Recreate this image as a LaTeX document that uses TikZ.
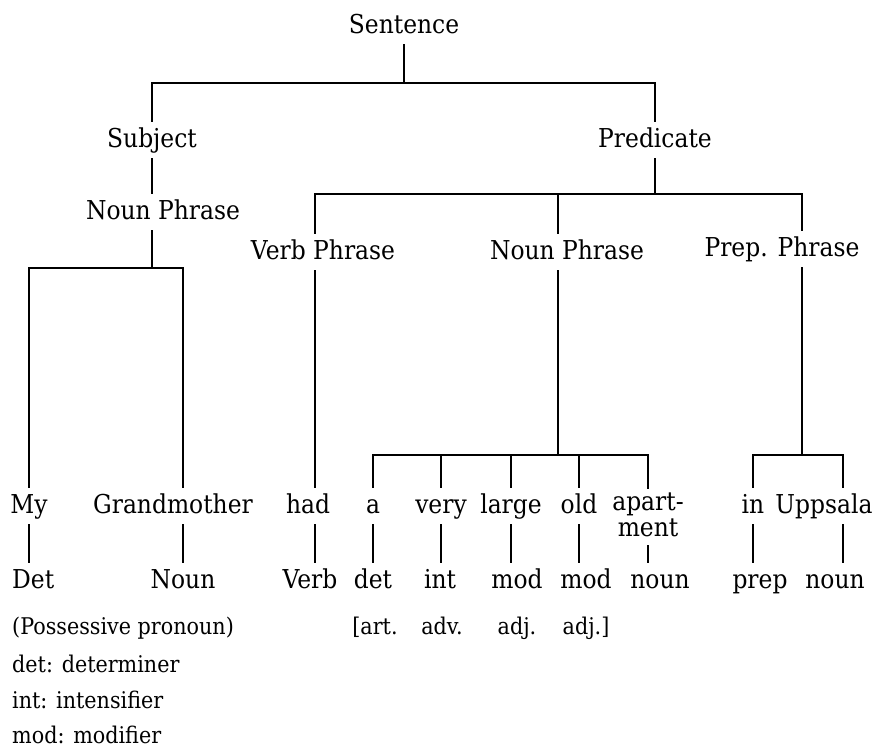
\documentclass[tikz,border=0pt]{standalone}
\usepackage{fontspec}
\setmainfont{DejaVu Serif}[FakeStretch=0.9]
\newcommand{\wordfont}{\fontsize{26}{26}\selectfont}
\newcommand{\notefont}{\fontsize{23}{23}\selectfont}
\begin{document}
\begin{tikzpicture}[x=1pt,y=-1pt,
	tree/.style={line width=2.1pt},
	stem/.style={line width=1.5pt},
	word/.style={font=\wordfont,inner sep=5pt,text height=20pt,text depth=6pt,anchor=base},
	note/.style={font=\notefont,inner sep=0pt,anchor=base}]
	\useasboundingbox (0,0) rectangle (874,747);
	\node[word] (sent) at (404,33) {Sentence};
	\node[word] (subj) at (152,147) {Subject};
	\node[word] (pred) at (655,147) {Predicate};
	\node[word] (npa) at (163,219) {Noun Phrase};
	\node[word] (vp) at (323,259) {Verb Phrase};
	\node[word] (npb) at (567,259) {Noun Phrase};
	\node[word] (pp) at (782,256) {Prep. Phrase};
	\node[word] (my) at (29,513) {My};
	\node[word] (grand) at (173,513) {Grandmother};
	\node[word] (had) at (308,513) {had};
	\node[word] (a) at (373,513) {a};
	\node[word] (very) at (441,513) {very};
	\node[word] (large) at (511,513) {large};
	\node[word] (old) at (579,513) {old};
	\node[font=\wordfont,align=center,inner sep=4pt,anchor=north] (apart) at (648,489) {apart-\\ment};
	\node[word] (in) at (753,513) {in};
	\node[word] (upp) at (824,513) {Uppsala};
	\node[word,anchor=base west] (deta) at (7,588) {Det};
	\node[word] (nouna) at (183,588) {Noun};
	\node[word] (verb) at (310,588) {Verb};
	\node[word] (detb) at (373,588) {det};
	\node[word] (int) at (440,588) {int};
	\node[word] (moda) at (517,588) {mod};
	\node[word] (modb) at (586,588) {mod};
	\node[word] (nounb) at (660,588) {noun};
	\node[word] (prep) at (760,588) {prep};
	\node[word] (nounc) at (835,588) {noun};
	\node[note,anchor=base west] (poss) at (12,634) {(Possessive pronoun)};
	\node[note] (art) at (375,634) {[art.};
	\node[note] (adv) at (442,634) {adv.};
	\node[note] (adja) at (517,634) {adj.};
	\node[note] (adjb) at (586,634) {adj.]};
	\node[note,anchor=base west] (kdet) at (12,672) {det: determiner};
	\node[note,anchor=base west] (kint) at (12,708) {int: intensifier};
	\node[note,anchor=base west] (kmod) at (12,743) {mod: modifier};
	\coordinate (f1) at (404,83);
	\coordinate (cv) at (315,194);
	\coordinate (cp) at (802,194);
	\coordinate (f3) at (152,268);
	\coordinate (f4) at (558,455);
	\coordinate (f5) at (802,455);
	\coordinate (cu) at (843,455);
	\draw[tree] (sent) -- (f1);
	\draw[tree] (subj) |- (f1) -| (pred);
	\draw[tree] (subj) -- (subj |- npa.north);
	\draw[tree] (pred) |- (cv) -- (cv |- vp.north);
	\draw[tree] (pred |- cv) -| (cp |- pp.north);
	\draw[tree] (npb.north -| f4) -- (f4 |- cv);
	\draw[tree] (npa.south -| f3) -- (f3);
	\draw[tree] (my) |- (f3) -| (grand.north -| nouna);
	\draw[stem] (vp.south -| cv) -- (had.north -| cv);
	\draw[stem] (npb.south -| f4) -- (f4);
	\draw[tree] (a) |- (f4) -| (apart);
	\draw[tree] (very) -- (very |- f4);
	\draw[tree] (large) -- (large |- f4);
	\draw[tree] (old) -- (old |- f4);
	\draw[stem] (pp.south -| f5) -- (f5);
	\draw[tree] (in) |- (f5) -- (cu) -- (cu |- upp.north);
	\draw[tree] (my) -- (my |- deta.north);
	\draw[tree] (grand.south -| nouna) -- (nouna);
	\draw[tree] (had.south -| cv) -- (verb.north -| cv);
	\draw[tree] (a) -- (detb);
	\draw[tree] (very) -- (very |- int.north);
	\draw[tree] (large) -- (large |- moda.north);
	\draw[tree] (old) -- (old |- modb.north);
	\draw[tree,shorten <=4pt] (apart) -- (apart |- nounb.north);
	\draw[tree] (in) -- (in |- prep.north);
	\draw[tree] (upp.south -| cu) -- (cu |- nounc.north);
\end{tikzpicture}
\end{document}
